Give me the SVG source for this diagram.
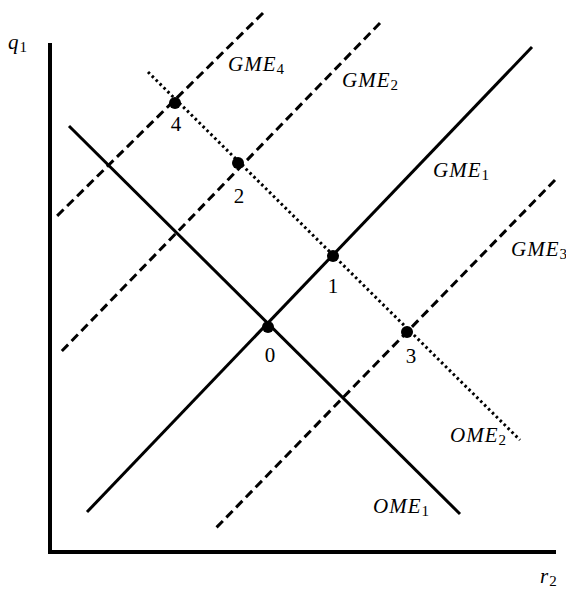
<svg xmlns="http://www.w3.org/2000/svg" width="566" height="591" viewBox="0 0 566 591">
<style>
.ax{stroke:#000;stroke-width:4;fill:none;stroke-linecap:square}
.sol{stroke:#000;stroke-width:3;fill:none}
.dash{stroke:#000;stroke-width:3;fill:none;stroke-dasharray:9 5}
.dot{stroke:#000;stroke-width:3;fill:none;stroke-dasharray:2.5 3}
.lbl{font-family:"Liberation Serif",serif;font-style:italic;font-size:21px;letter-spacing:1px;fill:#000}
.sub{font-style:normal;font-size:15px;letter-spacing:0}
.num{font-family:"Liberation Serif",serif;font-size:21px;fill:#000;text-anchor:middle}
.pt{fill:#000}
</style>
<g id="axes">
<line class="ax" x1="50" y1="45" x2="50" y2="552"/>
<line class="ax" x1="50" y1="552" x2="554" y2="552"/>
<text class="lbl" x="8" y="49">q<tspan class="sub" dy="3">1</tspan></text>
<text class="lbl" x="540" y="583">r<tspan class="sub" dy="3">2</tspan></text>
</g>
<g id="connectors">
<line id="GME1-line" class="sol" x1="87" y1="512" x2="532" y2="47"/>
<line id="OME1-line" class="sol" x1="69" y1="126" x2="460" y2="514"/>
<line id="OME2-line" class="dot" x1="148" y1="72" x2="520" y2="440"/>
<line id="GME4-line" class="dash" x1="263" y1="13" x2="57" y2="216"/>
<line id="GME2-line" class="dash" x1="380" y1="23" x2="59" y2="354"/>
<line id="GME3-line" class="dash" x1="555" y1="180" x2="215" y2="529"/>
</g>
<g id="GME4"><text class="lbl" x="228" y="71">GME<tspan class="sub" dy="3">4</tspan></text></g>
<g id="GME2"><text class="lbl" x="342" y="87">GME<tspan class="sub" dy="3">2</tspan></text></g>
<g id="GME1"><text class="lbl" x="433" y="177">GME<tspan class="sub" dy="3">1</tspan></text></g>
<g id="GME3"><text class="lbl" x="511" y="256">GME<tspan class="sub" dy="3">3</tspan></text></g>
<g id="OME2"><text class="lbl" x="450" y="442">OME<tspan class="sub" dy="3">2</tspan></text></g>
<g id="OME1"><text class="lbl" x="373" y="513">OME<tspan class="sub" dy="3">1</tspan></text></g>
<g id="p0"><circle class="pt" cx="268" cy="327" r="6"/><text class="num" x="270" y="362">0</text></g>
<g id="p1"><circle class="pt" cx="333" cy="256" r="6"/><text class="num" x="333" y="293">1</text></g>
<g id="p2"><circle class="pt" cx="238" cy="163" r="6"/><text class="num" x="239" y="203">2</text></g>
<g id="p3"><circle class="pt" cx="407" cy="332" r="6"/><text class="num" x="411" y="363">3</text></g>
<g id="p4"><circle class="pt" cx="175" cy="103" r="6"/><text class="num" x="176" y="131">4</text></g>
</svg>
